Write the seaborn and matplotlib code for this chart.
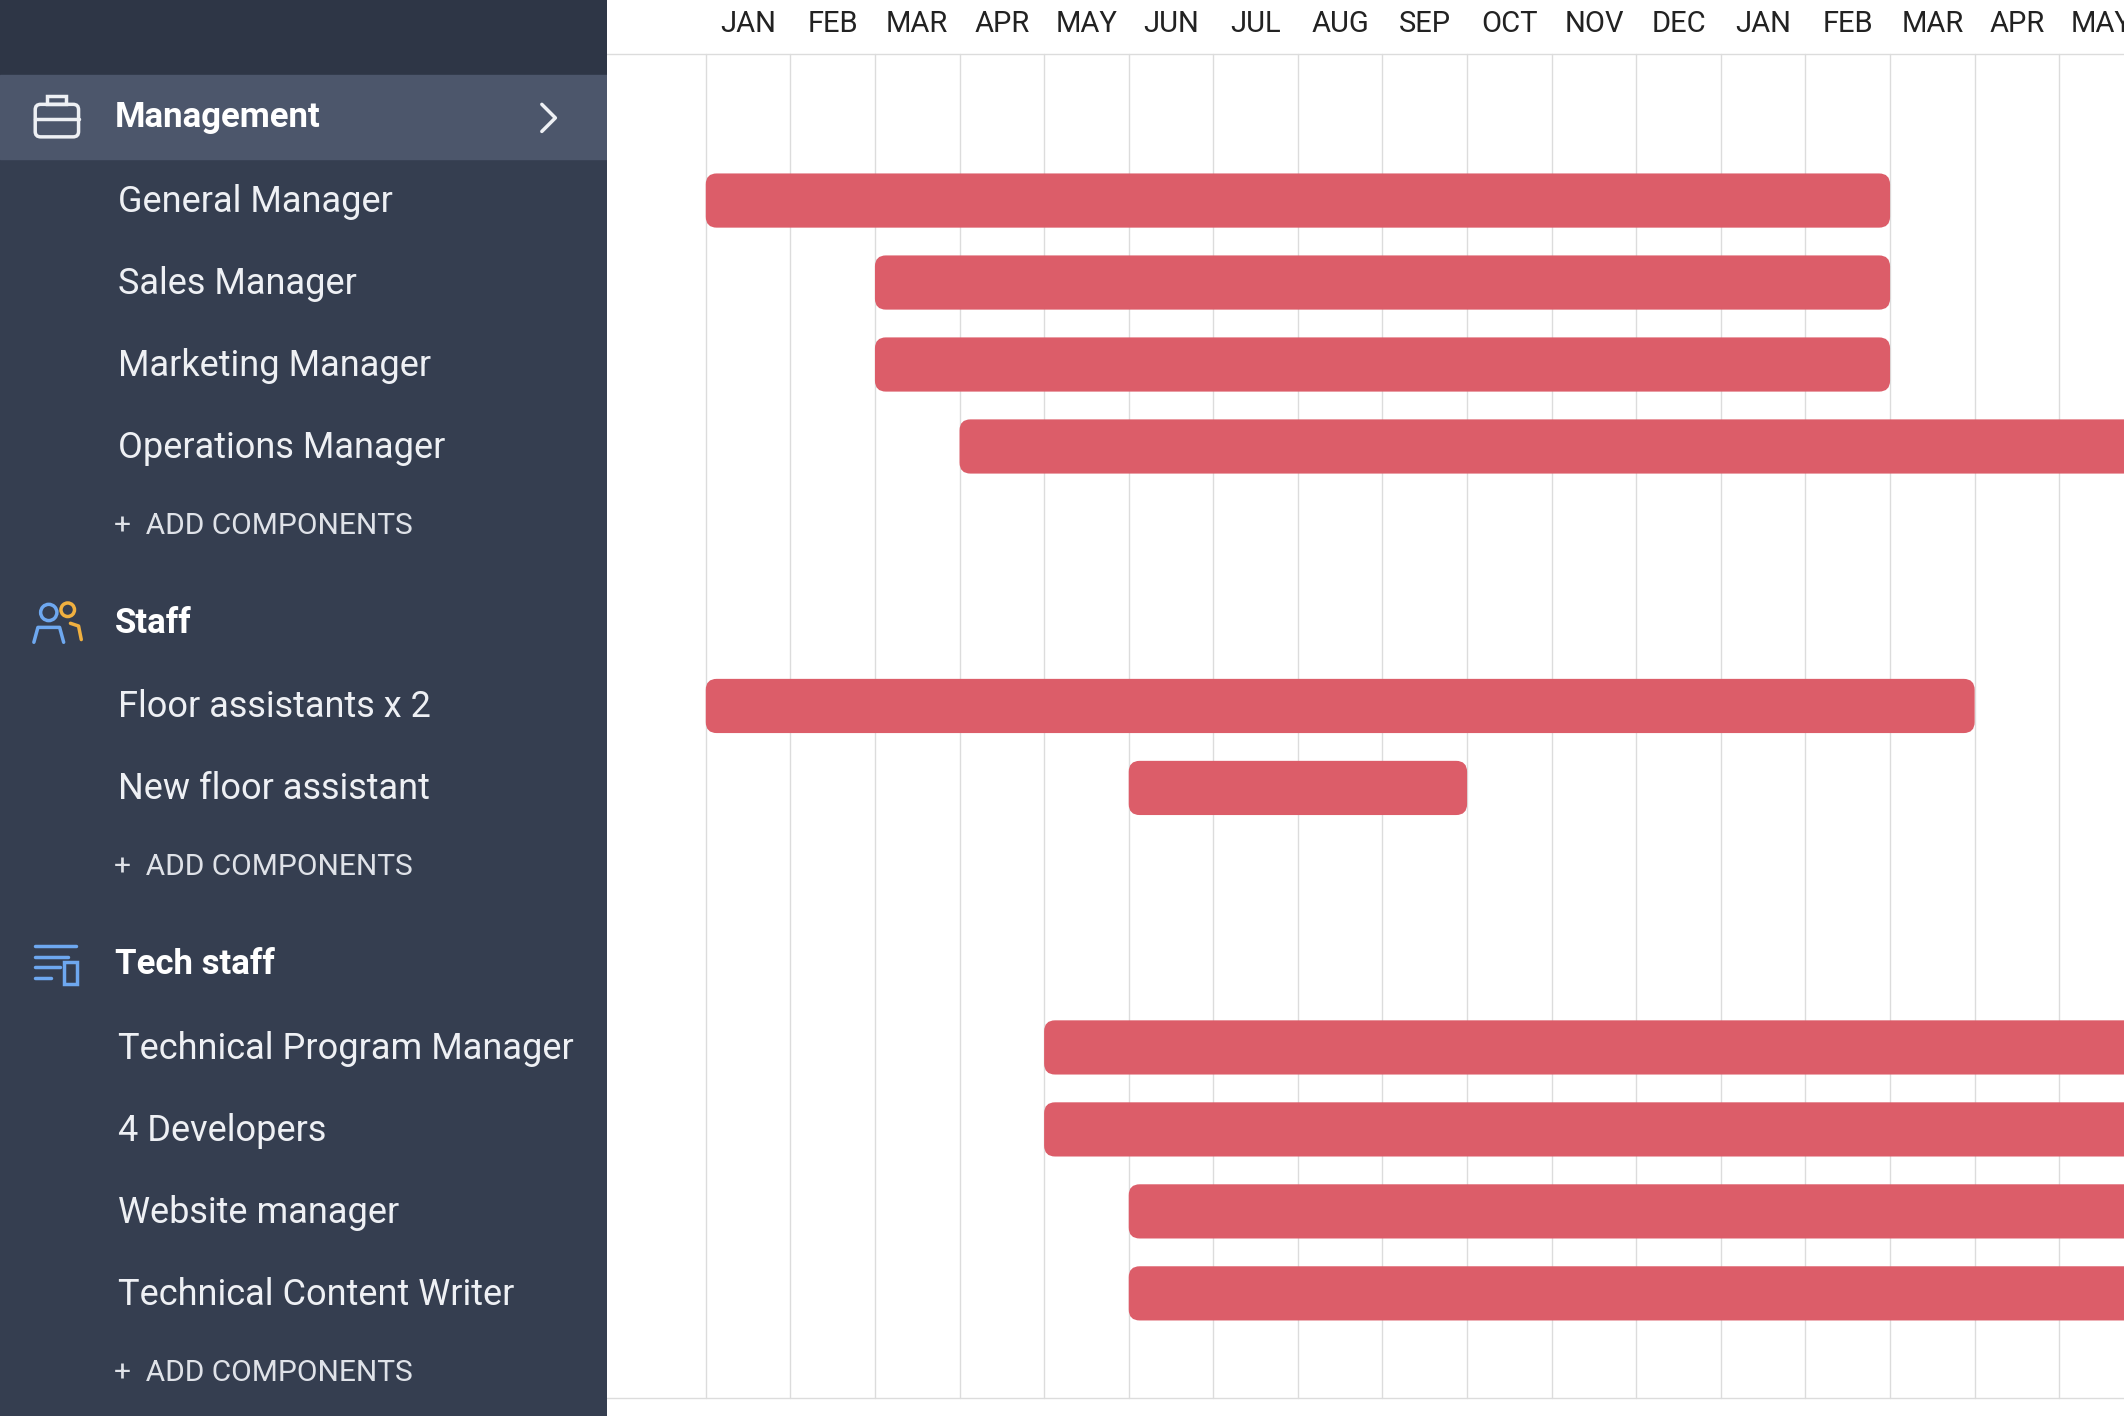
import matplotlib
matplotlib.use("Agg")
import matplotlib.pyplot as plt
import seaborn as sns
from matplotlib.patches import FancyBboxPatch, Rectangle, Circle

sns.set_style("white")
plt.rcParams['font.family'] = ['Roboto', 'DejaVu Sans']

months = ["JAN","FEB","MAR","APR","MAY","JUN","JUL","AUG","SEP","OCT","NOV","DEC",
          "JAN","FEB","MAR","APR","MAY"]
groups = ["Management", "Staff", "Tech staff"]
tasks = [
    ("Management", "General Manager", 0, 14),
    ("Management", "Sales Manager", 2, 14),
    ("Management", "Marketing Manager", 2, 14),
    ("Management", "Operations Manager", 3, 18),
    ("Staff", "Floor assistants x 2", 0, 15),
    ("Staff", "New floor assistant", 5, 9),
    ("Tech staff", "Technical Program Manager", 4, 18),
    ("Tech staff", "4 Developers", 4, 18),
    ("Tech staff", "Website manager", 5, 18),
    ("Tech staff", "Technical Content Writer", 5, 18),
]

W, H = 1568, 1045
SB = 448
x0px, mpx = 521, 62.45
fig = plt.figure(figsize=(21.24, 14.16), dpi=100)

layout = []
y = 87
for g in groups:
    layout.append(("header", g, y))
    y += 61
    for t in [t for t in tasks if t[0] == g]:
        layout.append(("task", t, y))
        y += 60.5
    layout.append(("add", g, y - 3))
    y += 70

sb = fig.add_axes([0, 0, SB / W, 1])
sb.set_xlim(0, SB); sb.set_ylim(H, 0); sb.axis("off")
sb.add_patch(Rectangle((0, 0), SB, H, color="#353e50", zorder=0))
sb.add_patch(Rectangle((0, 0), SB, 55, color="#2e3646", zorder=0))
txt = "#eef0f4"
for kind, obj, yy in layout:
    if kind == "header":
        if obj == "Management":
            sb.add_patch(Rectangle((0, yy - 32), SB, 62, color="#4c566b", zorder=1))
            sb.plot([400, 410, 400], [yy - 10, yy, yy + 10], color=txt, lw=2.5, zorder=3)
            sb.add_patch(FancyBboxPatch((26, yy - 10), 32, 24, boxstyle="round,pad=0,rounding_size=4",
                                        fill=False, ec=txt, lw=2.5, zorder=3))
            sb.add_patch(Rectangle((35, yy - 16), 14, 6, fill=False, ec=txt, lw=2.5, zorder=3))
            sb.plot([26, 58], [yy + 1, yy + 1], color=txt, lw=2.5, zorder=3)
        elif obj == "Staff":
            sb.add_patch(Circle((36, yy - 8), 6, fill=False, ec="#6ea8f0", lw=2.5, zorder=3))
            sb.add_patch(Circle((50, yy - 10), 5, fill=False, ec="#f0b040", lw=2.5, zorder=3))
            sb.plot([25, 28, 44, 47], [yy + 14, yy + 3, yy + 3, yy + 14], color="#6ea8f0", lw=2.5)
            sb.plot([52, 58, 60], [yy, yy + 2, yy + 12], color="#f0b040", lw=2.5)
        else:
            for i, L in enumerate([30, 24, 18, 12]):
                sb.plot([26, 26 + L], [yy - 14 + i * 8, yy - 14 + i * 8], color="#6ea8f0", lw=2.5)
            sb.add_patch(Rectangle((47, yy - 2), 10, 16, fill=False, ec="#6ea8f0", lw=2.5))
        sb.text(85, yy, obj, color="white", fontsize=25, fontweight="bold", va="center", zorder=3)
    elif kind == "task":
        sb.text(87, yy + 1, obj[1], color=txt, fontsize=26, va="center")
    else:
        sb.text(84, yy + 1, "+  ADD COMPONENTS", color="#dfe2e8", fontsize=21.5, va="center")

ax = fig.add_axes([SB / W, 0, 1 - SB / W, 1])
ax.set_xlim((SB - x0px) / mpx, (W - x0px) / mpx)
ax.set_ylim(H, 0)
ax.axis("off")
for i in range(len(months)):
    ax.plot([i, i], [40, 1032], color="#dcdcdc", lw=1, zorder=1)
    ax.text(i + 0.5, 18, months[i], ha="center", va="center", fontsize=21, color="#222222")
ax.plot([-2, 20], [40, 40], color="#dcdcdc", lw=1)
ax.plot([-2, 20], [1032, 1032], color="#dcdcdc", lw=1)

ys = [yy for k, o, yy in layout if k == "task"]
starts = [t[2] for t in tasks]
ends = [t[3] for t in tasks]
bars = ax.barh(ys, [e - s for s, e in zip(starts, ends)], left=starts, height=40, color="#dc5d69")
for b in list(bars):
    x, yb, w, h = b.get_x(), b.get_y(), b.get_width(), b.get_height()
    b.remove()
    ax.add_patch(FancyBboxPatch((x, yb), w, h, boxstyle="round,pad=0,rounding_size=0.13",
                                mutation_aspect=mpx, color="#dc5d69", zorder=2, lw=0))

fig.savefig("out.png", dpi=100)
